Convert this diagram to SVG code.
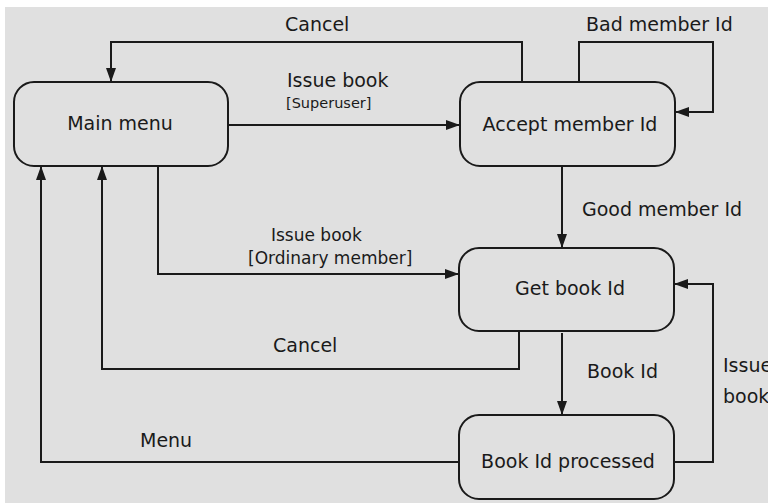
<svg xmlns="http://www.w3.org/2000/svg" width="768" height="503" viewBox="0 0 768 503">
<style>
.bg{fill:#e0e0e0}
.node rect{fill:#e0e0e0;stroke:#1a1a1a;stroke-width:2}
text{font-family:"DejaVu Sans",Verdana,sans-serif;fill:#1a1a1a}
.n{font-size:19px;text-anchor:middle}
.l{font-size:19px}
.s{font-size:17px}
.xs{font-size:14.5px}
#edges path{fill:none;stroke:#1a1a1a;stroke-width:2;marker-end:url(#arr)}
</style>
<defs>
<marker id="arr" markerUnits="userSpaceOnUse" markerWidth="14" markerHeight="10" refX="14" refY="5" orient="auto">
<path d="M0,0 L14,5 L0,10 z" fill="#1a1a1a"/>
</marker>
</defs>
<rect class="bg" x="5" y="7" width="763" height="496"/>
<g id="edges">
<path d="M522,82 V42 H111 V82"/>
<path d="M228,125 H460"/>
<path d="M579,82 V42 H713 V112 H675"/>
<path d="M562,166 V248"/>
<path d="M158,166 V274 H459"/>
<path d="M519,331 V369 H102 V166"/>
<path d="M562,333 V415"/>
<path d="M674,462 H713 V284 H674"/>
<path d="M459,462 H41 V166"/>
</g>
<g id="labels">
<text class="l" x="285" y="31">Cancel</text>
<text class="l" x="287" y="87">Issue book</text>
<text class="xs" x="286" y="108">[Superuser]</text>
<text class="l" x="586" y="31">Bad member Id</text>
<text class="l" x="582" y="216">Good member Id</text>
<text class="s" x="271" y="241">Issue book</text>
<text class="s" x="248" y="264">[Ordinary member]</text>
<text class="l" x="273" y="352">Cancel</text>
<text class="l" x="587" y="378">Book Id</text>
<text class="l" x="723" y="372">Issue</text>
<text class="l" x="723" y="403">book</text>
<text class="l" x="140" y="447">Menu</text>
</g>
<g id="main-menu" class="node">
<rect x="14" y="82" width="214" height="84" rx="20"/>
<text class="n" x="120" y="130">Main menu</text>
</g>
<g id="accept-member-id" class="node">
<rect x="460" y="82" width="215" height="84" rx="20"/>
<text class="n" x="570" y="131">Accept member Id</text>
</g>
<g id="get-book-id" class="node">
<rect x="459" y="248" width="215" height="83" rx="20"/>
<text class="n" x="570" y="295">Get book Id</text>
</g>
<g id="book-id-processed" class="node">
<rect x="459" y="415" width="215" height="84" rx="20"/>
<text class="n" x="568" y="468">Book Id processed</text>
</g>
</svg>
